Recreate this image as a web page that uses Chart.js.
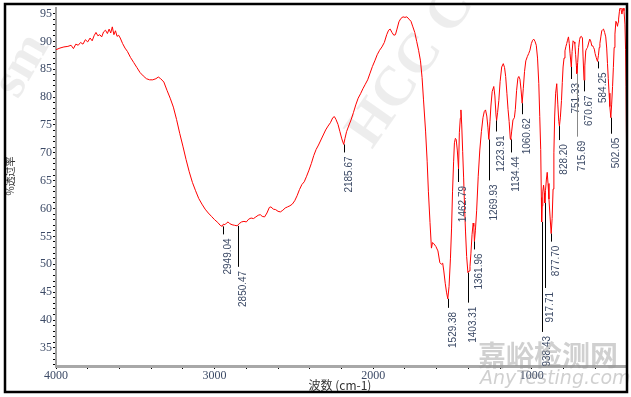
<!DOCTYPE html>
<html>
<head>
<meta charset="utf-8">
<script src="https://cdn.jsdelivr.net/npm/chart.js@4"></script>
<style>
  html, body { margin: 0; padding: 0; background: #fff; }
  canvas { display: block; }
</style>
</head>
<body>
<canvas id="chartIR" width="631" height="397"></canvas>
<script>
// Spectrum data (wavenumber cm-1 / % transmittance)
const wavenumbers = [
  4000, 3975, 3950, 3925, 3905, 3890, 3875, 3860, 3845, 3830, 3815, 3800, 3785, 3772, 3760, 3748, 3736, 3724, 3712, 3700,
  3688, 3676, 3665, 3655, 3645, 3635, 3625, 3615, 3605, 3595, 3580, 3565, 3550, 3530, 3510, 3490, 3470, 3450, 3430, 3410,
  3390, 3370, 3355, 3340, 3320, 3300, 3280, 3260, 3240, 3220, 3200, 3180, 3160, 3140, 3120, 3100, 3080, 3060, 3040, 3020,
  3000, 2980, 2965, 2952, 2945, 2935, 2925, 2915, 2905, 2890, 2875, 2858, 2845, 2830, 2815, 2800, 2785, 2770, 2755, 2740,
  2725, 2712, 2700, 2685, 2670, 2655, 2645, 2630, 2615, 2600, 2585, 2570, 2555, 2540, 2525, 2510, 2495, 2480, 2465, 2450,
  2435, 2420, 2405, 2390, 2375, 2360, 2345, 2330, 2315, 2300, 2285, 2270, 2255, 2245, 2235, 2222, 2210, 2198, 2186, 2178,
  2168, 2155, 2140, 2125, 2110, 2095, 2080, 2065, 2050, 2035, 2020, 2005, 1990, 1975, 1960, 1945, 1930, 1915, 1903, 1893,
  1882, 1870, 1860, 1850, 1838, 1826, 1812, 1800, 1788, 1775, 1762, 1750, 1738, 1726, 1714, 1702, 1692, 1683, 1670, 1660,
  1652, 1642, 1633, 1626, 1618, 1605, 1592, 1580, 1570, 1562, 1555, 1546, 1538, 1530, 1522, 1513, 1506, 1500, 1493, 1488,
  1482, 1477, 1470, 1462, 1457, 1451, 1447, 1442, 1436, 1430, 1424, 1418, 1411, 1403, 1396, 1390, 1384, 1377, 1370, 1366,
  1362, 1356, 1348, 1338, 1328, 1318, 1308, 1300, 1292, 1284, 1277, 1271, 1264, 1258, 1250, 1240, 1233, 1226, 1222, 1216,
  1208, 1200, 1190, 1180, 1172, 1165, 1157, 1150, 1143, 1136, 1133, 1127, 1119, 1110, 1104, 1096, 1088, 1082, 1075, 1068,
  1061, 1054, 1046, 1038, 1028, 1020, 1012, 1003, 995, 988, 980, 972, 964, 956, 950, 944, 940, 938, 935, 931,
  926, 921, 918, 914, 908, 903, 898, 892, 885, 878, 872, 866, 861, 856, 850, 843, 836, 830, 826, 820,
  813, 808, 803, 797, 791, 785, 780, 775, 769, 764, 759, 751, 746, 740, 734, 729, 724, 719, 716, 711,
  705, 699, 694, 688, 681, 677, 671, 666, 660, 654, 649, 642, 635, 629, 622, 616, 611, 606, 601, 594,
  586, 580, 575, 571, 565, 559, 553, 548, 541, 534, 528, 523, 518, 513, 508, 502, 497, 491, 486, 481,
  476, 470, 465, 460, 456, 453, 448, 443, 438, 432, 428, 424, 419, 413, 409, 406, 403, 400
];
const transmittance = [
  88.5, 88.8, 89.0, 89.1, 89.3, 88.7, 89.5, 89.3, 89.8, 89.5, 90.3, 89.9, 90.6, 90.1, 91.0, 91.6, 91.0, 91.2, 90.8, 91.7,
  92.0, 91.4, 92.2, 91.5, 92.6, 91.2, 91.9, 90.9, 91.1, 90.6, 89.6, 88.8, 88.2, 87.1, 86.2, 85.3, 84.4, 83.8, 83.3, 83.1,
  83.1, 83.3, 83.6, 83.3, 82.7, 81.2, 79.8, 78.2, 76.0, 73.5, 71.2, 68.8, 66.6, 64.7, 63.2, 61.8, 60.8, 59.9, 59.2, 58.6,
  58.0, 57.5, 57.0, 56.8, 57.2, 57.1, 57.4, 57.6, 57.3, 57.1, 57.0, 56.9, 57.3, 57.6, 57.7, 57.6, 58.1, 58.3, 58.2, 58.5,
  58.8, 58.9, 58.6, 58.5, 59.2, 60.2, 60.3, 59.9, 59.8, 59.5, 59.4, 59.7, 60.1, 60.3, 60.5, 60.8, 61.4, 62.3, 63.4, 64.3,
  64.8, 65.8, 66.9, 68.1, 69.5, 70.6, 71.4, 72.3, 73.2, 74.1, 74.8, 75.4, 76.3, 76.5, 76.0, 75.1, 73.8, 72.5, 71.5, 72.6,
  73.8, 74.8, 75.9, 77.2, 78.6, 79.8, 80.6, 81.5, 82.3, 83.1, 84.3, 85.5, 86.5, 87.6, 88.4, 89.0, 89.8, 91.2, 92.0, 92.2,
  91.6, 91.1, 91.2, 92.2, 93.5, 94.1, 94.4, 94.3, 94.4, 94.0, 93.6, 92.6, 91.6, 90.0, 88.4, 86.5, 83.5, 79.5, 73.9, 68.5,
  63.0, 57.5, 52.9, 53.9, 53.7, 53.2, 52.4, 50.3, 50.0, 50.2, 48.8, 46.6, 45.0, 43.8, 46.0, 51.1, 56.5, 63.0, 68.5, 71.8,
  72.6, 72.4, 70.5, 67.1, 73.6, 76.2, 77.7, 75.0, 70.2, 65.5, 60.2, 55.8, 51.4, 48.5, 48.8, 49.6, 52.0, 55.3, 57.4, 56.8,
  54.1, 56.0, 59.6, 65.8, 70.5, 73.8, 76.3, 77.4, 77.7, 76.6, 74.6, 72.4, 75.6, 78.4, 81.0, 81.9, 80.2, 76.8, 75.8, 77.2,
  79.4, 82.8, 85.4, 86.0, 85.3, 83.7, 80.6, 77.8, 75.6, 72.6, 72.4, 73.9, 75.9, 76.3, 77.8, 81.2, 83.4, 83.7, 83.2, 81.3,
  78.9, 81.5, 84.6, 86.5, 87.3, 87.8, 88.4, 89.6, 90.2, 90.4, 90.0, 89.3, 87.0, 82.4, 76.5, 70.6, 62.0, 57.6, 60.5, 63.0,
  64.2, 62.8, 61.0, 63.2, 65.3, 66.5, 64.5, 61.7, 58.5, 55.5, 58.2, 63.5, 70.0, 76.6, 80.7, 82.4, 78.6, 75.6, 74.8, 76.4,
  79.4, 82.6, 85.4, 87.0, 88.3, 89.1, 89.6, 90.2, 90.8, 89.6, 87.8, 85.4, 88.2, 90.1, 89.9, 89.6, 87.6, 85.6, 84.2, 86.2,
  88.9, 90.3, 90.8, 90.9, 90.6, 87.2, 83.0, 85.6, 88.3, 88.7, 88.9, 89.7, 90.4, 90.1, 89.2, 89.2, 88.9, 88.6, 87.8, 87.1,
  86.4, 87.5, 88.9, 89.6, 90.8, 91.9, 92.1, 92.2, 91.6, 90.8, 88.8, 86.0, 83.3, 80.7, 78.3, 76.3, 78.6, 81.9, 85.3, 88.9,
  91.3, 93.6, 93.3, 92.7, 93.4, 94.0, 95.3, 96.5, 95.8, 94.9, 95.6, 96.5, 95.5, 93.1, 88.5, 81.9, 72.0, 61.7
];

// Peak annotations
const peakWavenumbers = [2949.04, 2850.47, 2185.67, 1529.38, 1462.79, 1403.31, 1361.96, 1269.93, 1223.91, 1134.44,
  1060.62, 938.43, 917.71, 877.70, 828.20, 751.33, 715.69, 670.67, 584.25, 502.05];
const peakTexts = ['2949.04', '2850.47', '2185.67', '1529.38', '1462.79', '1403.31', '1361.96', '1269.93', '1223.91', '1134.44',
  '1060.62', '938.43', '917.71', '877.70', '828.20', '751.33', '715.69', '670.67', '584.25', '502.05'];
const peakValues = [56.8, 56.9, 71.5, 43.8, 67.1, 48.5, 54.1, 72.4, 75.8, 72.4,
  78.9, 57.6, 61.0, 55.5, 74.8, 85.4, 84.2, 83.0, 86.4, 76.3];
// leader line lengths in px (layout only)
const leaderLengths = [8, 41, 8, 9, 13, 30, 8, 41, 11, 13, 11, 110, 85, 8, 14, 12, 63, 11, 7, 16];

const xTickValues = [4000, 3800, 3600, 3400, 3200, 3000, 2800, 2600, 2400, 2200, 2000, 1800, 1600, 1400, 1200, 1000, 800, 600, 400];
const xTickLabels = ['4000', '', '', '', '', '3000', '', '', '', '', '2000', '', '', '', '', '1000', '', '', ''];
const yMajorTicks = [35, 40, 45, 50, 55, 60, 65, 70, 75, 80, 85, 90, 95];

const xTitle = '波数 (cm-1)';
const yTitle = '%透过率';

// Deco: labels, titles, watermark, frame
const decorPlugin = {
  id: 'decor',
  beforeDatasetsDraw(chart) {
    const ctx = chart.ctx;
    ctx.save();
    ctx.fillStyle = 'rgba(0,0,0,0.07)';
    ctx.font = 'bold 56px "Liberation Serif"';
    ctx.translate(372, 150);
    ctx.rotate(-55 * Math.PI / 180);
    ctx.fillText('HCC C', 0, 0);
    ctx.restore();
    ctx.save();
    ctx.fillStyle = 'rgba(0,0,0,0.07)';
    ctx.font = 'bold 52px "Liberation Serif"';
    ctx.translate(18, 100);
    ctx.rotate(-60 * Math.PI / 180);
    ctx.fillText('sm', 0, 0);
    ctx.restore();
  },
  afterDraw(chart) {
    const ctx = chart.ctx;
    const x = chart.scales.x;
    const y = chart.scales.y;
    ctx.save();

    // peak leaders and labels
    ctx.font = '10px "Liberation Sans"';
    ctx.fillStyle = '#3c4a66';
    ctx.textBaseline = 'middle';
    ctx.textAlign = 'right';
    peakWavenumbers.forEach((wn, i) => {
      const px = Math.round(x.getPixelForValue(wn)) + 0.5;
      const py = y.getPixelForValue(peakValues[i]);
      const bottom = py + leaderLengths[i];
      ctx.strokeStyle = i === 16 ? '#888' : '#000';
      ctx.lineWidth = 1;
      ctx.beginPath();
      ctx.moveTo(px, py);
      ctx.lineTo(px, bottom);
      ctx.stroke();
      ctx.save();
      ctx.translate(px + 5, bottom + 4);
      ctx.rotate(-Math.PI / 2);
      ctx.fillText(peakTexts[i], 0, 0);
      ctx.restore();
    });

    // axis titles
    ctx.fillStyle = '#333';
    ctx.font = '12px "Noto Sans CJK SC"';
    ctx.textAlign = 'center';
    ctx.fillText(xTitle, 340, 385);
    ctx.save();
    ctx.font = '10px "Noto Sans CJK SC"';
    ctx.translate(10, 176);
    ctx.rotate(-Math.PI / 2);
    ctx.fillText(yTitle, 0, 0);
    ctx.restore();

    // watermark bottom right
    ctx.fillStyle = 'rgba(150,150,150,0.45)';
    ctx.font = 'bold 28px "Noto Sans CJK SC"';
    ctx.textAlign = 'left';
    ctx.fillText('嘉峪检测网', 478, 355);
    ctx.font = 'italic 19px "DejaVu Sans"';
    ctx.fillText('AnyTesting.com', 480, 379);

    // outer frame
    ctx.strokeStyle = '#000';
    ctx.lineWidth = 2.5;
    ctx.strokeRect(5, 4, 622, 388);
    ctx.restore();
  }
};

const points = wavenumbers.map((wn, i) => ({ x: wn, y: transmittance[i] }));

new Chart(document.getElementById('chartIR').getContext('2d'), {
  type: 'line',
  data: {
    datasets: [{
      data: points,
      borderColor: '#ff0000',
      borderWidth: 1,
      pointRadius: 0,
      tension: 0,
      fill: false
    }]
  },
  options: {
    responsive: false,
    animation: false,
    devicePixelRatio: 1,
    layout: { padding: { left: 0, top: 4, right: 4, bottom: 0 } },
    plugins: {
      legend: { display: false },
      tooltip: { enabled: false }
    },
    scales: {
      x: {
        type: 'linear',
        reverse: true,
        min: 400,
        max: 4000,
        afterBuildTicks: s => { s.ticks = xTickValues.map(v => ({ value: v })); },
        afterFit: s => { s.height = 31; },
        ticks: {
          autoSkip: false,
          maxRotation: 0,
          padding: 0,
          color: '#3c4a66',
          font: { family: 'Liberation Serif', size: 12 },
          callback: (v, i) => xTickLabels[i]
        },
        grid: { drawOnChartArea: false, color: '#000', tickLength: 3 },
        border: { color: '#a8a8a8', width: 3 }
      },
      y: {
        min: 31.75,
        max: 95.95,
        afterBuildTicks: s => {
          const t = [];
          for (let v = 32; v <= 95; v++) t.push({ value: v });
          s.ticks = t;
        },
        afterFit: s => { s.width = 56; },
        ticks: {
          autoSkip: false,
          padding: 1,
          color: '#3c4a66',
          font: { family: 'Liberation Serif', size: 12 },
          callback: v => yMajorTicks.includes(v) ? String(v) : ''
        },
        grid: { drawOnChartArea: false, color: '#000', tickLength: 3 },
        border: { color: '#a0a0a0', width: 2 }
      }
    }
  },
  plugins: [decorPlugin]
});
</script>
</body>
</html>
